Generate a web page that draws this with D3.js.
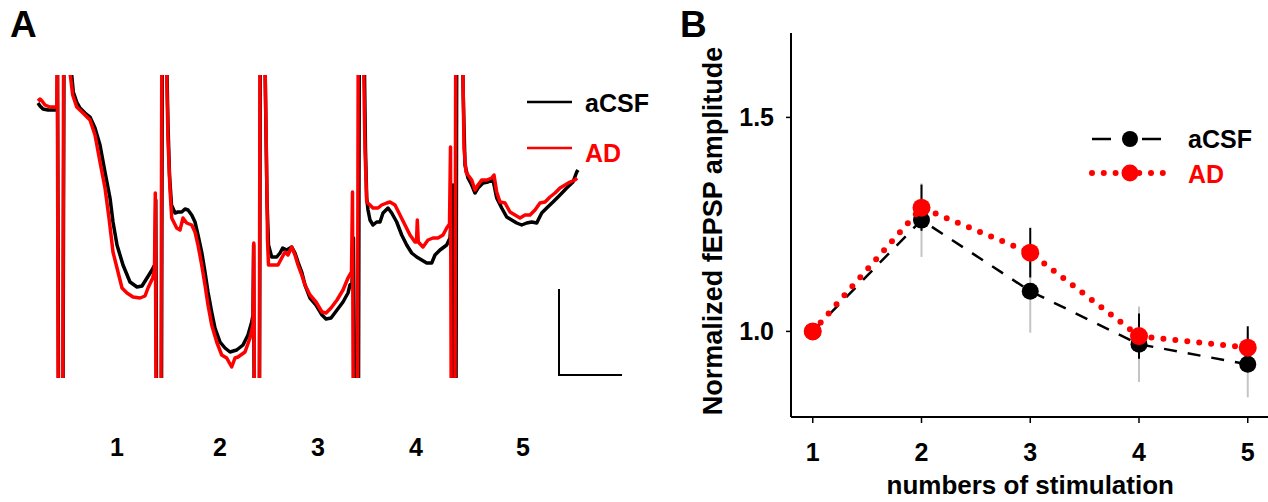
<!DOCTYPE html>
<html><head><meta charset="utf-8">
<script src="https://cdn.jsdelivr.net/npm/d3@7"></script>
<style>
body{margin:0;background:#fff}
svg{display:block}
text{font-family:"Liberation Sans",Arial,Helvetica,sans-serif;font-weight:bold}
</style>
</head><body>
<svg id="c" width="1268" height="502"></svg>
<script>
// ---------- Panel A: fEPSP traces (time a.u., amplitude a.u.) ----------
const aCSF_trace = [
[0,275],[2,272],[5,269],[10,268],[18,268],[19,268],[19.5,328],[20.5,-22],[25,-22],[26,328],[32,328],
[33.7,303],[35.3,286],[38.7,276],[42,270],[47,265],[52,261],[57,250],[62,233],[67,206],[72,180],[75,156],[79,133],[85,113],[92,96],[99,91],[104,92],[109,100],[114,108],[116,112],
[117,112],[117.8,178],[118.5,-22],[123.5,-22],[124.3,328],[128.3,328],
[129,303],[130,253],[131.5,203],[133.5,173],[137,165],[140,166],[143.7,166],[147,169],[150,168],[153.7,163],[157,156],[160,143],[163.7,126],[167,106],[170,86],[173.7,66],[177,50],[182,36],[187,30],[192,26],[198.7,28],[205,33],[210,43],[213.7,56],[215,63],
[215.6,133],[216.2,-22],[221.5,-22],[222.3,328],[226.5,328],
[227.2,303],[228,246],[229,178],[230.5,133],[233.7,121],[238.7,121],[242,125],[244.7,130],[248.7,128],[253.7,131],[257,125],[260,116],[263.7,106],[267,93],[272,80],[278,73],[284,63],[288,59],[293,60],[299,68],[305,76],[310,85],[312,93],
[314,95],[315.5,140],[316.5,-22],[320.5,-22],[321.3,328],[325.5,328],
[326.5,303],[327.5,228],[328.7,180],[330,168],[332,158],[335,153],[338.7,156],[342,156],[345,165],[350,170],[353.7,165],[358.7,156],[363.7,143],[368.7,133],[373.7,125],[378.7,121],[383.7,118],[388.7,115],[393.7,115],[397,123],[402,128],[408.7,133],[411,138],
[412,140],[415,193],[415.8,-22],[418,-22],[418.7,328],[424.5,328],
[425.3,280],[427,213],[430,200],[433.7,193],[437,185],[440,190],[445,195],[450,196],[455,198],[458.7,180],[463.7,170],[468.7,161],[473.7,158],[478.7,155],[483.7,153],[488.7,155],[493.7,156],[498.7,155],[503.7,165],[508.7,170],[515,176],[522,183],[528.7,190],[535,196],[538.7,206],[540,208]
];
const AD_trace = [
[0,277],[2,279],[4,277],[7,273],[12,271],[18,271],[18.8,271],[19.3,328],[20.2,-22],[24.8,-22],[25.6,328],[31.5,328],
[32.3,303],[34.7,283],[38.7,271],[45,265],[52,258],[57,243],[62,216],[67,190],[71,160],[75,126],[80,106],[84,90],[89,85],[95,81],[102,80],[107,82],[110,90],[114.7,100],[116.5,108],
[117.3,185],[118,-22],[123,-22],[123.8,328],[128,328],
[128.7,303],[130,238],[132,188],[133.7,160],[138.7,150],[142,148],[145,160],[148.7,155],[153.7,153],[157,146],[160,133],[163.7,113],[167,93],[170,73],[173.7,53],[178.7,36],[183.7,23],[188.7,20],[193.7,11],[197,20],[200,21],[207,26],[212,40],[215,53],
[215.8,135],[216.4,-22],[221.3,-22],[222,328],[226.5,328],
[227.2,303],[228.5,218],[229.5,138],[230.5,113],[235,113],[240,113],[243.7,120],[247,126],[250,123],[253.7,131],[257,123],[260,113],[263.7,103],[267,93],[272,83],[278,76],[284,66],[288,65],[293,70],[299,78],[305,88],[310,100],[313.5,106],
[314.5,186],[315.2,-22],[319.5,-22],[320.2,328],[325,328],
[325.8,303],[327,228],[328.7,176],[332,173],[335,170],[340,170],[343.7,173],[348.7,175],[352,176],[357,173],[362,163],[367,153],[372,143],[377,136],[378.5,136],[379.3,158],[380.3,136],[385,131],[390,138],[395,140],[400,140],[405,143],[408.7,150],[411.5,154],
[412.5,231],[413.2,-22],[417,-22],[417.7,328],[424.5,328],
[425.3,280],[426,230],[428,206],[430,203],[433.7,198],[437,188],[440,193],[443.7,198],[448.7,198],[453.7,200],[456,203],[458.7,186],[462,176],[467,175],[472,166],[477,163],[482,160],[487,163],[492,163],[497,168],[502,175],[507,176],[512,181],[517,185],[522,190],[527,193],[532,196],[537,198],[539,200]
];
const sweepLabels = ["1","2","3","4","5"];
const sweepLabelTimes = [79, 182, 280, 378, 485];
const traceNames = ["aCSF","AD"];

// ---------- Panel B: paired-pulse summary ----------
const stimNumbers = [1, 2, 3, 4, 5];
const aCSF_mean = [1.0, 1.26, 1.094, 0.970, 0.923];
const aCSF_sem  = [0, 0.086, 0.097, 0.088, 0.077];
const AD_mean   = [1.0, 1.289, 1.184, 0.989, 0.962];
const AD_sem    = [0, 0.054, 0.058, 0.053, 0.050];
const yTickValues = [1.0, 1.5];
const yTickLabels = ["1.0", "1.5"];
const xTickLabels = ["1", "2", "3", "4", "5"];

const svg = d3.select("#c");
svg.append("rect").attr("width",1268).attr("height",502).attr("fill","#fff");

// ===== Panel A =====
const xA = d3.scaleLinear().domain([0, 540]).range([38, 578]);
const yA = d3.scaleLinear().domain([0, 303]).range([378, 75]);
svg.append("defs").append("clipPath").attr("id","clipA")
  .append("rect").attr("x",20).attr("y",yA(303)).attr("width",580).attr("height",yA(0)-yA(303));
const lineA = d3.line().x(d=>xA(d[0])).y(d=>yA(d[1]));
const gA = svg.append("g").attr("clip-path","url(#clipA)");
gA.append("path").datum(aCSF_trace).attr("d",lineA).attr("fill","none")
  .attr("stroke","#000").attr("stroke-width",3.5).attr("stroke-linejoin","round");
gA.append("path").datum(AD_trace).attr("d",lineA).attr("fill","none")
  .attr("stroke","#ff0000").attr("stroke-width",3.5).attr("stroke-linejoin","round");

svg.append("text").attr("x",10).attr("y",37).attr("font-size",37).text("A");

svg.selectAll(".swl").data(sweepLabels).enter().append("text")
  .attr("x",(d,i)=>xA(sweepLabelTimes[i])).attr("y",456)
  .attr("text-anchor","middle").attr("font-size",25).text(d=>d);

// legend A
const legA = svg.append("g");
[["#000",102,112],["#ff0000",148,162]].forEach((c,i)=>{
  legA.append("line").attr("x1",527).attr("x2",572).attr("y1",c[1]).attr("y2",c[1])
    .attr("stroke",c[0]).attr("stroke-width",2.5);
  legA.append("text").attr("x",585).attr("y",c[2]).attr("font-size",25)
    .attr("fill",c[0]).text(traceNames[i]);
});
// scale bar
const sb = {t0: 521, v0: 3, dt: 63, dv: 86};
svg.append("path").attr("fill","none").attr("stroke","#000").attr("stroke-width",2)
  .attr("d",`M${xA(sb.t0)},${yA(sb.v0+sb.dv)}L${xA(sb.t0)},${yA(sb.v0)}L${xA(sb.t0+sb.dt)},${yA(sb.v0)}`);

// ===== Panel B =====
const xB = d3.scaleLinear().domain([0.8, 5.2]).range([791, 1269.5]);
const yB = d3.scaleLinear().domain([0.8, 1.7]).range([417, 31.8]);

svg.append("text").attr("x",680).attr("y",37).attr("font-size",37).text("B");

const gB = svg.append("g");
gB.append("line").attr("x1",xB(0.8)).attr("x2",xB(0.8)).attr("y1",yB(1.697)).attr("y2",yB(0.8))
  .attr("stroke","#000").attr("stroke-width",2);
gB.append("line").attr("x1",xB(0.8)).attr("x2",1268).attr("y1",yB(0.8)).attr("y2",yB(0.8))
  .attr("stroke","#000").attr("stroke-width",2);
yTickValues.forEach((v,i)=>{
  gB.append("line").attr("x1",xB(0.8)-5).attr("x2",xB(0.8)).attr("y1",yB(v)).attr("y2",yB(v))
    .attr("stroke","#000").attr("stroke-width",1.5);
  gB.append("text").attr("x",xB(0.8)-17).attr("y",yB(v)+9).attr("text-anchor","end")
    .attr("font-size",25).text(yTickLabels[i]);
});
stimNumbers.forEach((s,i)=>{
  gB.append("line").attr("x1",xB(s)).attr("x2",xB(s)).attr("y1",yB(0.8)).attr("y2",yB(0.8)+6)
    .attr("stroke","#000").attr("stroke-width",1.5);
  gB.append("text").attr("x",xB(s)).attr("y",461).attr("text-anchor","middle")
    .attr("font-size",25).text(xTickLabels[i]);
});
gB.append("text").attr("x",(xB(1)+xB(5))/2).attr("y",494).attr("text-anchor","middle")
  .attr("font-size",26).text("numbers of stimulation");
gB.append("text").attr("transform",`translate(722,231) rotate(-90)`).attr("text-anchor","middle")
  .attr("font-size",27).text("Normalized fEPSP amplitude");

stimNumbers.forEach((s,i)=>{
  if (aCSF_sem[i] > 0) gB.append("line").attr("x1",xB(s)).attr("x2",xB(s))
    .attr("y1",yB(aCSF_mean[i]+aCSF_sem[i])).attr("y2",yB(aCSF_mean[i]-aCSF_sem[i]))
    .attr("stroke","#c4c4c4").attr("stroke-width",2);
});
stimNumbers.forEach((s,i)=>{
  if (AD_sem[i] > 0) gB.append("line").attr("x1",xB(s)).attr("x2",xB(s))
    .attr("y1",yB(AD_mean[i]+AD_sem[i])).attr("y2",yB(AD_mean[i]-AD_sem[i]))
    .attr("stroke","#000").attr("stroke-width",2);
});
const lineB = d3.line().x((d,i)=>xB(stimNumbers[i])).y(d=>yB(d));
gB.append("path").datum(aCSF_mean).attr("d",lineB).attr("fill","none")
  .attr("stroke","#000").attr("stroke-width",2.5).attr("stroke-dasharray","13 11");
gB.selectAll(".ma").data(aCSF_mean).enter().append("circle")
  .attr("cx",(d,i)=>xB(stimNumbers[i])).attr("cy",d=>yB(d)).attr("r",8.5).attr("fill","#000");
gB.append("path").datum(AD_mean).attr("d",lineB).attr("fill","none")
  .attr("stroke","#ff0000").attr("stroke-width",6).attr("stroke-linecap","round")
  .attr("stroke-dasharray","0 12");
gB.selectAll(".md").data(AD_mean).enter().append("circle")
  .attr("cx",(d,i)=>xB(stimNumbers[i])).attr("cy",d=>yB(d)).attr("r",9).attr("fill","#ff0000");

const legB = svg.append("g");
legB.append("line").attr("x1",1092).attr("x2",1111).attr("y1",139).attr("y2",139).attr("stroke","#000").attr("stroke-width",2.5);
legB.append("line").attr("x1",1142).attr("x2",1161).attr("y1",139).attr("y2",139).attr("stroke","#000").attr("stroke-width",2.5);
legB.append("circle").attr("cx",1130).attr("cy",139).attr("r",8).attr("fill","#000");
legB.append("text").attr("x",1188).attr("y",148).attr("font-size",25).text(traceNames[0]);
legB.append("line").attr("x1",1092).attr("x2",1163).attr("y1",173).attr("y2",173)
  .attr("stroke","#ff0000").attr("stroke-width",6).attr("stroke-linecap","round").attr("stroke-dasharray","0 11.8");
legB.append("circle").attr("cx",1130).attr("cy",173).attr("r",8.5).attr("fill","#ff0000");
legB.append("text").attr("x",1188).attr("y",183).attr("font-size",25).attr("fill","#ff0000").text(traceNames[1]);
</script>
</body></html>
